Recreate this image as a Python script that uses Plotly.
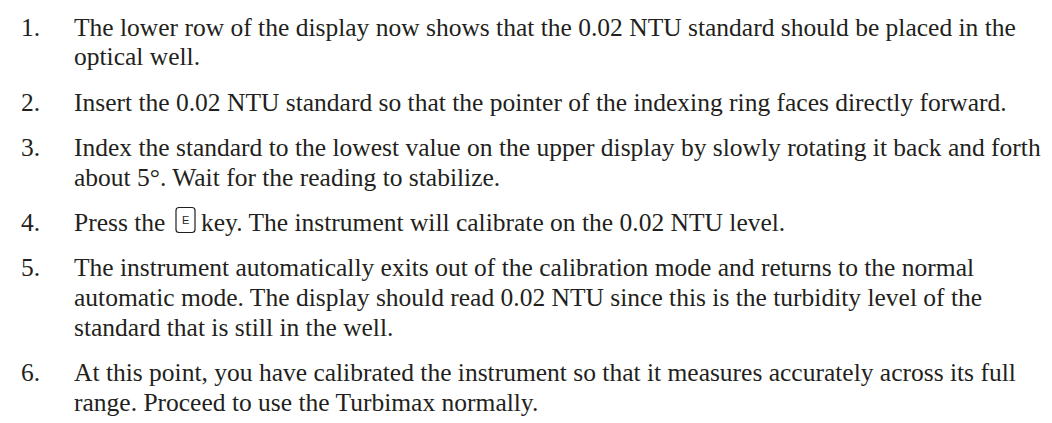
import plotly.graph_objects as go

step_numbers = ["1.", "2.", "3.", "4.", "5.", "6."]
step_lines = [
    ["The lower row of the display now shows that the 0.02 NTU standard should be placed in the",
     "optical well."],
    ["Insert the 0.02 NTU standard so that the pointer of the indexing ring faces directly forward."],
    ["Index the standard to the lowest value on the upper display by slowly rotating it back and forth",
     "about 5°. Wait for the reading to stabilize."],
    ["Press the", "key. The instrument will calibrate on the 0.02 NTU level."],
    ["The instrument automatically exits out of the calibration mode and returns to the normal",
     "automatic mode. The display should read 0.02 NTU since this is the turbidity level of the",
     "standard that is still in the well."],
    ["At this point, you have calibrated the instrument so that it measures accurately across its full",
     "range. Proceed to use the Turbimax normally."],
]
key_label = "E"

W, H = 1052, 423
FONT = "Liberation Serif"
FS = 25.5
COLOR = "#231f20"
NUM_X, TEXT_X = 11, 64
FIRST = 27.5    # baseline of the first line
PITCH = 29.8    # line pitch inside a step
GAP = 15.5      # extra space between steps
MID = 8.5       # baseline -> annotation middle offset


def txt(x, y, s, size=FS, family=FONT, anchor="left"):
    return dict(x=x, y=y, text=s, xanchor=anchor, yanchor="middle", showarrow=False,
                font=dict(family=family, size=size, color=COLOR))


def rounded_box(x0, y0, x1, y1, r):
    return (f"M{x0 + r},{y0} L{x1 - r},{y0} Q{x1},{y0} {x1},{y0 + r} "
            f"L{x1},{y1 - r} Q{x1},{y1} {x1 - r},{y1} L{x0 + r},{y1} "
            f"Q{x0},{y1} {x0},{y1 - r} L{x0},{y0 + r} Q{x0},{y0} {x0 + r},{y0} Z")


fig = go.Figure()
annotations = []
shapes = []
y = FIRST
for i, (num, lines) in enumerate(zip(step_numbers, step_lines)):
    annotations.append(txt(NUM_X, y - MID, num))
    if i == 3:
        annotations.append(txt(TEXT_X, y - MID, lines[0]))
        bx0, bx1 = 168, 187
        by0, by1 = y - 23.5, y + 1.5
        shapes.append(dict(type="path", path=rounded_box(bx0, by0, bx1, by1, 3),
                           line=dict(color=COLOR, width=1.2), fillcolor="white"))
        annotations.append(txt((bx0 + bx1) / 2, (by0 + by1) / 2, key_label, size=11,
                               family="Liberation Sans", anchor="center"))
        annotations.append(txt(bx1 + 4, y - MID, lines[1]))
        y += PITCH
    else:
        for line in lines:
            annotations.append(txt(TEXT_X, y - MID, line))
            y += PITCH
    y += GAP

fig.update_layout(
    width=W, height=H,
    margin=dict(l=0, r=0, t=0, b=0),
    paper_bgcolor="white", plot_bgcolor="white",
    xaxis=dict(range=[0, W], visible=False, fixedrange=True),
    yaxis=dict(range=[H, 0], visible=False, fixedrange=True),
    annotations=annotations, shapes=shapes, showlegend=False,
)
fig.write_html("out.html")
